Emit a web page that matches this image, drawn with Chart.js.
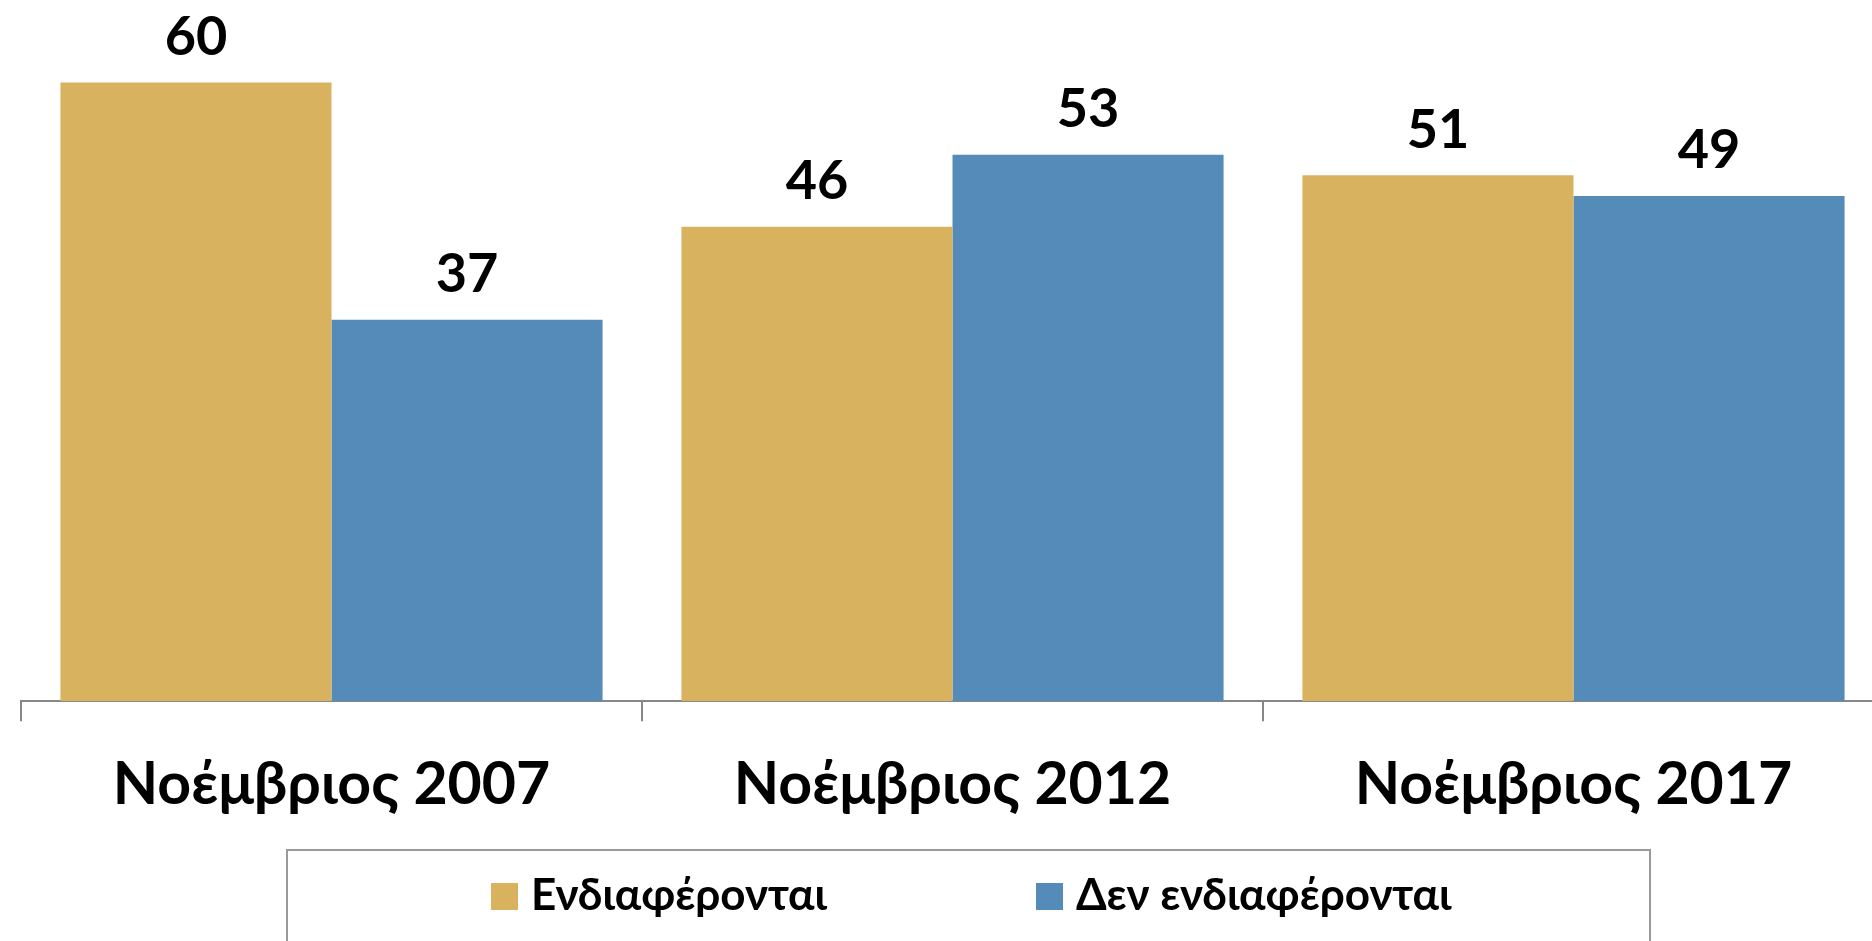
<!DOCTYPE html>
<html>
<head>
<meta charset="utf-8">
<script src="https://cdn.jsdelivr.net/npm/chart.js@4.4.1/dist/chart.umd.min.js"></script>
<style>
    body { margin: 0; background: #fff; overflow: hidden; }
    #wrap { width: 1936px; height: 941px; }
</style>
</head>
<body>
<div id="wrap"><canvas id="interestChart" width="1936" height="941"></canvas></div>
<script>
// Chart data
const categories = ['Νοέμβριος 2007', 'Νοέμβριος 2012', 'Νοέμβριος 2017'];
const seriesNames = ['Ενδιαφέρονται', 'Δεν ενδιαφέρονται'];
const interested = [60, 46, 51];
const notInterested = [37, 53, 49];

const GOLD = '#D8B25E';
const BLUE = '#558BB9';
const FONT = 'Lato, "Open Sans", "Noto Sans", sans-serif';

// Draw the value above each bar
const valueLabels = {
    id: 'valueLabels',
    afterDatasetsDraw(chart) {
        const ctx = chart.ctx;
        ctx.save();
        ctx.font = 'bold 54px ' + FONT;
        ctx.fillStyle = '#000';
        ctx.textAlign = 'center';
        ctx.textBaseline = 'bottom';
        chart.data.datasets.forEach((ds, i) => {
            chart.getDatasetMeta(i).data.forEach((bar, j) => {
                ctx.fillText(ds.data[j], bar.x, bar.y - 18);
            });
        });
        ctx.restore();
    }
};

// Boxed legend below the axis
const boxedLegend = {
    id: 'boxedLegend',
    afterDraw(chart) {
        const ctx = chart.ctx;
        const boxX = [491, 1036];
        const midY = 896;
        ctx.save();
        ctx.strokeStyle = '#9a9a9a';
        ctx.lineWidth = 2;
        ctx.strokeRect(287, 850, 1363, 120);
        ctx.font = 'bold 44px ' + FONT;
        ctx.textBaseline = 'middle';
        ctx.textAlign = 'left';
        chart.data.datasets.forEach((ds, i) => {
            ctx.fillStyle = ds.backgroundColor;
            ctx.fillRect(boxX[i], midY - 13, 27, 27);
            ctx.fillStyle = '#000';
            ctx.fillText(ds.label, boxX[i] + 40, midY);
        });
        ctx.restore();
    }
};

new Chart(document.getElementById('interestChart'), {
    type: 'bar',
    data: {
        labels: categories,
        datasets: [
            { label: seriesNames[0], data: interested, backgroundColor: GOLD },
            { label: seriesNames[1], data: notInterested, backgroundColor: BLUE }
        ]
    },
    options: {
        responsive: false,
        animation: false,
        layout: { padding: { left: 21, right: 52, top: 0, bottom: 93 } },
        plugins: {
            legend: { display: false },
            tooltip: { enabled: false }
        },
        datasets: {
            bar: { categoryPercentage: 0.873, barPercentage: 1.0 }
        },
        scales: {
            x: {
                grid: {
                    drawOnChartArea: false,
                    tickLength: 20,
                    color: '#878787',
                    lineWidth: 2
                },
                border: { color: '#878787', width: 2 },
                ticks: {
                    color: '#000',
                    padding: 28,
                    font: { family: FONT, size: 59, weight: 'bold' }
                }
            },
            y: {
                display: false,
                min: 0,
                max: 68
            }
        }
    },
    plugins: [valueLabels, boxedLegend]
});
</script>
</body>
</html>
